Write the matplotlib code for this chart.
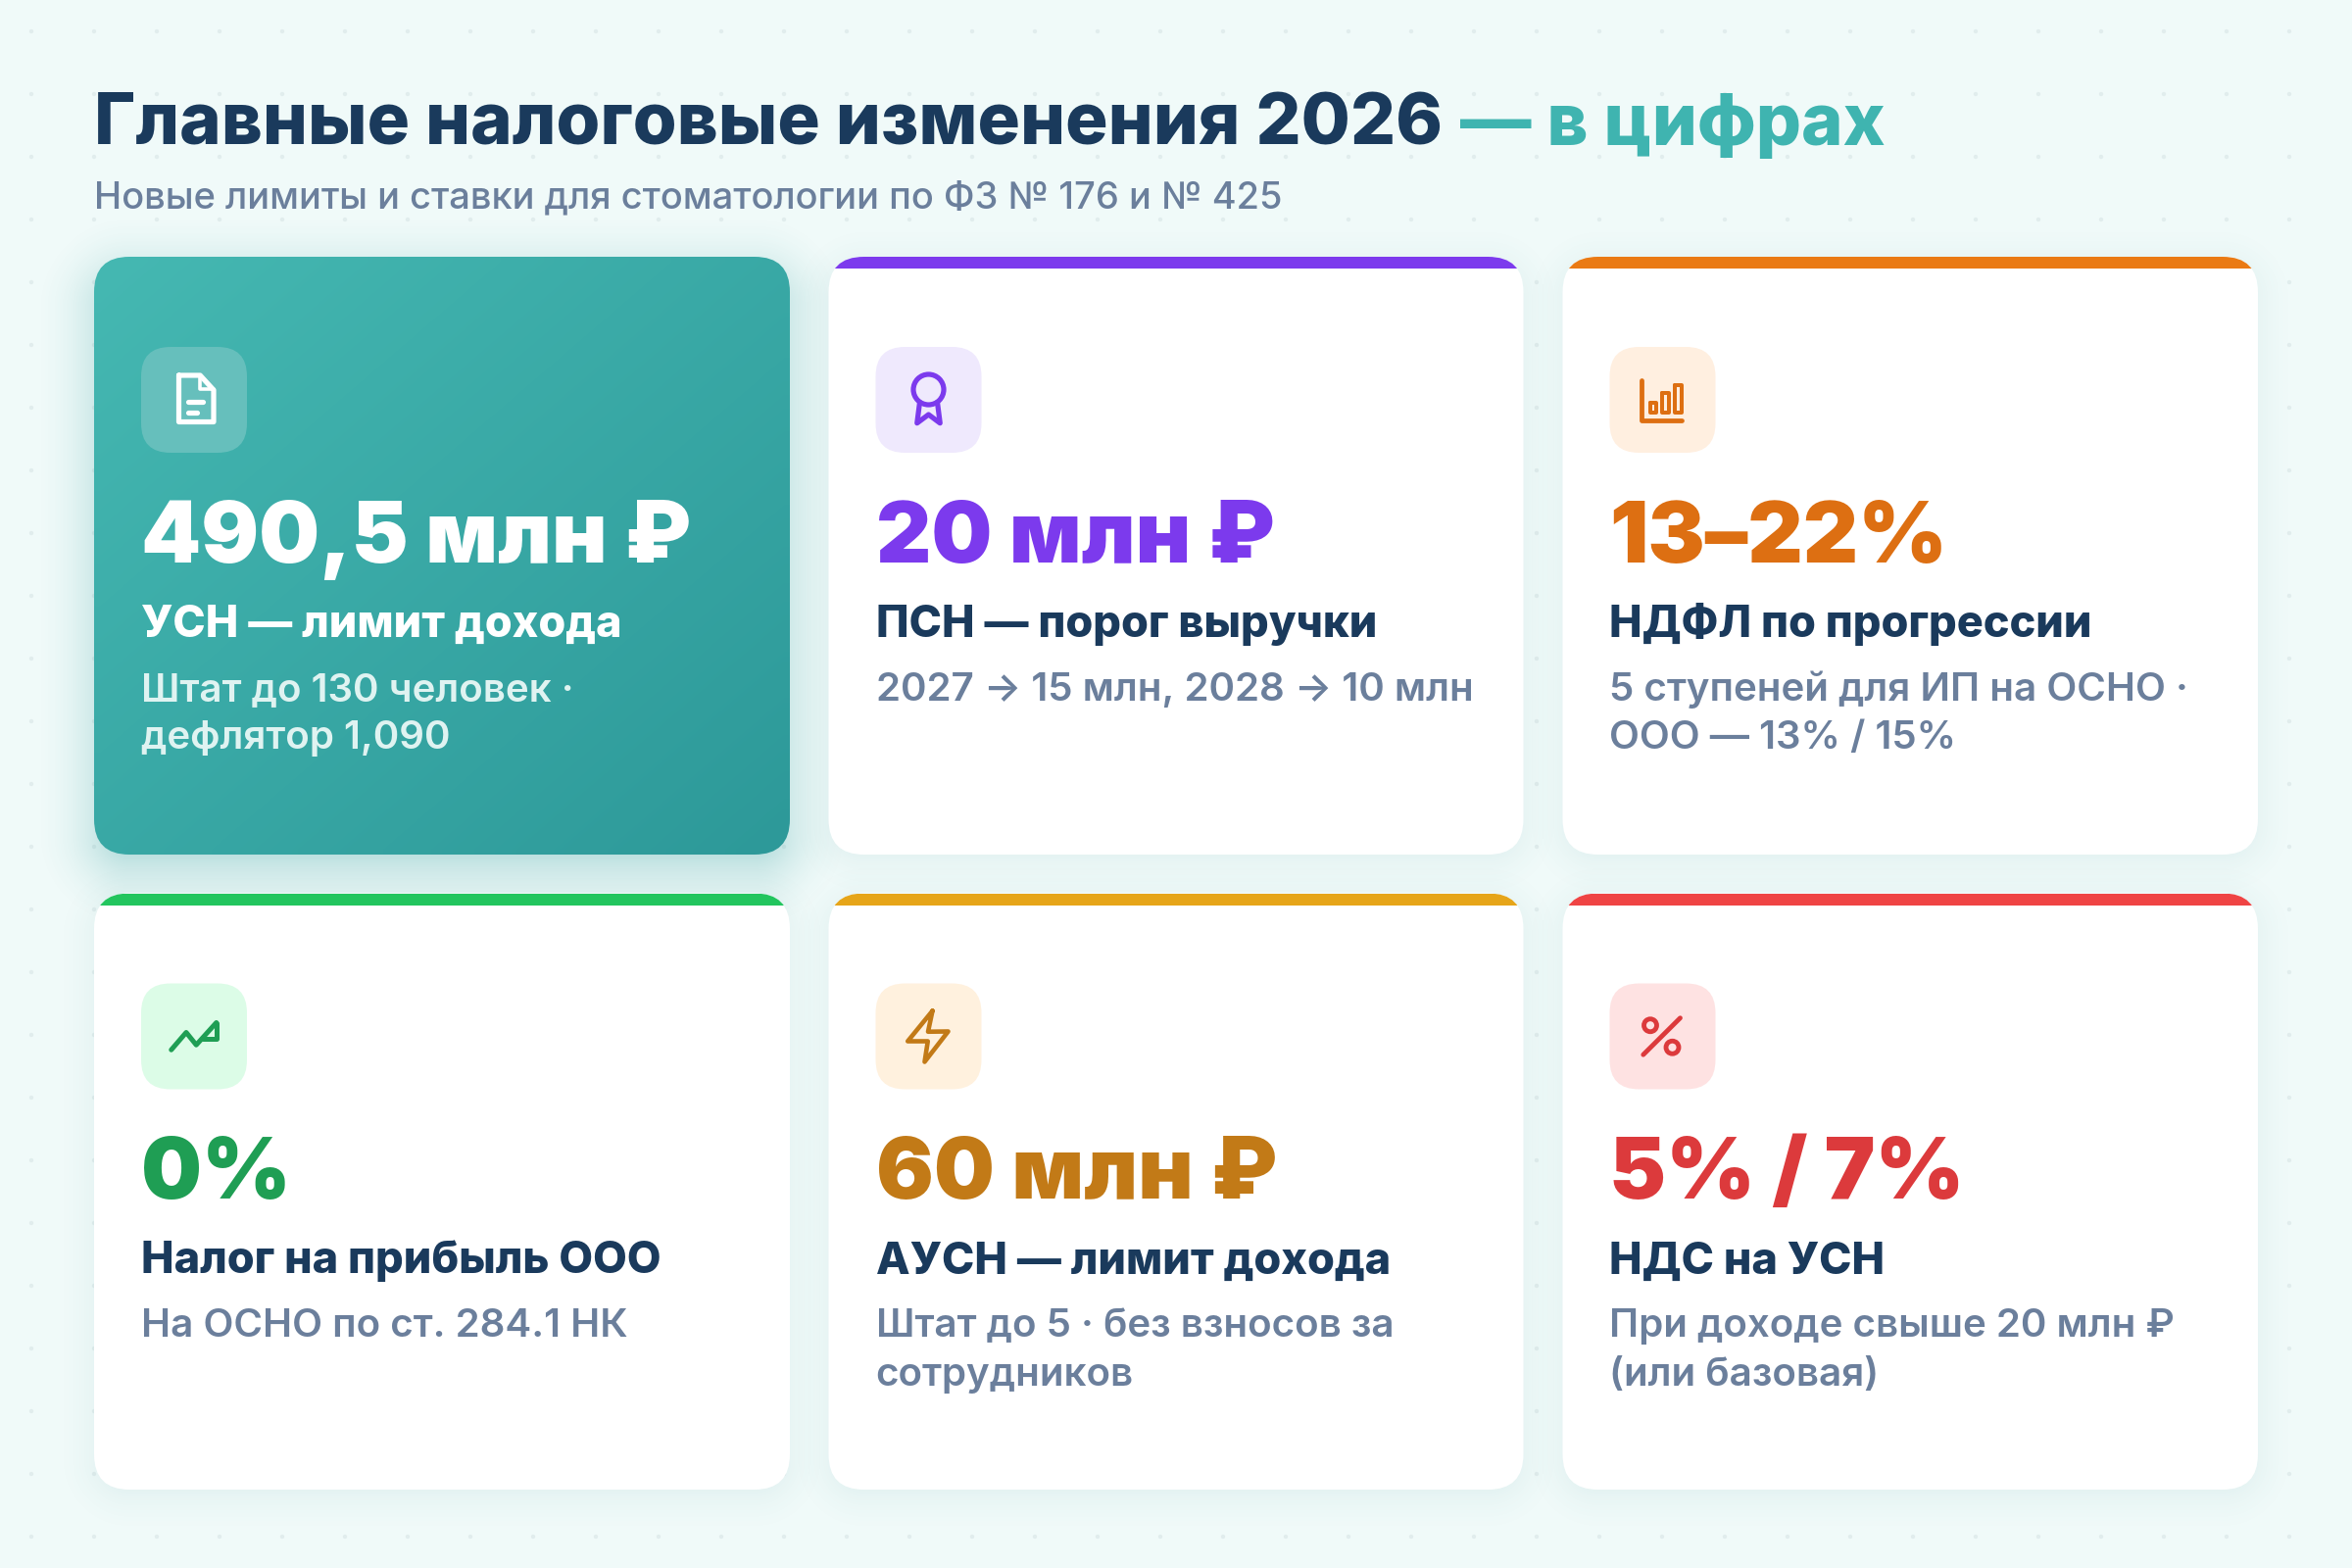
import matplotlib
matplotlib.use('Agg')
import matplotlib.pyplot as plt
import numpy as np
from matplotlib.lines import Line2D
from matplotlib.patches import Circle, FancyBboxPatch, Rectangle

FONT = ['Inter', 'DejaVu Sans']

title_main = 'Главные налоговые изменения 2026'
title_accent = '— в цифрах'
subtitle = 'Новые лимиты и ставки для стоматологии по ФЗ № 176 и № 425'

values = ['490,5 млн ₽', '20 млн ₽', '13–22%', '0%', '60 млн ₽', '5% / 7%']
headings = ['УСН — лимит дохода', 'ПСН — порог выручки', 'НДФЛ по прогрессии',
            'Налог на прибыль ООО', 'АУСН — лимит дохода', 'НДС на УСН']
notes = [['Штат до 130 человек ·', 'дефлятор 1,090'],
         ['2027 → 15 млн, 2028 → 10 млн'],
         ['5 ступеней для ИП на ОСНО ·', 'ООО — 13% / 15%'],
         ['На ОСНО по ст. 284.1 НК'],
         ['Штат до 5 · без взносов за', 'сотрудников'],
         ['При доходе свыше 20 млн ₽', '(или базовая)']]
icons = ['doc', 'award', 'chart', 'trend', 'zap', 'percent']

bar_colors = [None, '#7c3aed', '#ea7a14', '#22c55e', '#e6a519', '#ef4444']
value_colors = ['#ffffff', '#7c3aed', '#dd6f12', '#1f9e54', '#c27a17', '#dc3a3c']
icon_bgs = ['#66bfbc', '#efe9fd', '#ffefe0', '#dcfce7', '#fff1de', '#fee2e2']
icon_colors = ['#ffffff', '#7c3aed', '#dd6f12', '#1f9e54', '#c27a17', '#dc3a3c']

NAVY = '#1a3a5c'
TEAL = '#3fb4b0'
GREY = '#6b7f9c'

card_x = [96, 845.5, 1594.5]
card_y = [262, 911.5]
card_w = [710, 709, 709.5]
card_h = [610, 608.5]
RADIUS = 36


def lw(px):
    return px * 72 / 200


def shadow(ax, x, y, w, h, blur, dy, color, a):
    x0, x1 = int(x - blur * 1.5), int(x + w + blur * 1.5)
    y0, y1 = int(y + dy - blur * 1.5), int(y + h + dy + blur * 1.5)
    yy, xx = np.mgrid[y0:y1, x0:x1]
    qx = np.abs(xx + 0.5 - x - w / 2) - w / 2 + RADIUS
    qy = np.abs(yy + 0.5 - y - dy - h / 2) - h / 2 + RADIUS
    d = np.hypot(np.maximum(qx, 0), np.maximum(qy, 0)) + np.minimum(np.maximum(qx, qy), 0) - RADIUS
    img = np.zeros(xx.shape + (4,))
    img[..., :3] = matplotlib.colors.to_rgb(color)
    img[..., 3] = a * np.clip(1 - (d + blur * 0.4) / (blur * 1.4), 0, 1) ** 2
    ax.imshow(img, extent=(x0, x1, y1, y0), aspect='auto', zorder=2, interpolation='bilinear')


def draw_icon(ax, name, cx, cy, color):
    s = 2.5

    def pt(u, v):
        return cx + (u - 12) * s, cy + (v - 12) * s

    def line(points, width=5.2, close=False):
        pts = [pt(u, v) for u, v in points]
        if close:
            pts.append(pts[0])
        xs, ys = zip(*pts)
        ax.add_line(Line2D(xs, ys, color=color, lw=lw(width), solid_capstyle='round',
                           solid_joinstyle='round', zorder=6))

    def ring(u, v, r, width=5.2):
        ax.add_patch(Circle(pt(u, v), r * s, fill=False, ec=color, lw=lw(width), zorder=6))

    if name == 'doc':
        line([(5.8, 2), (14.5, 2), (20, 8), (20, 21), (5.8, 21)], close=True)
        line([(14.5, 2), (14.5, 7.5), (20, 7.5)], 3.6)
        line([(9.5, 12.8), (15.5, 12.8)])
        line([(9.5, 17), (13, 17)])
    elif name == 'award':
        ring(12, 7.8, 6.2)
        line([(8.4, 13), (7.3, 21.5), (12, 18), (16.7, 21.5), (15.6, 13)])
    elif name == 'chart':
        line([(3.4, 3.8), (3.4, 20.2), (19.8, 20.2)], 4.8)
        for u0, u1, top in [(6.8, 9.4, 13), (11.9, 14.5, 9), (17, 19.7, 6)]:
            line([(u0, top), (u1, top), (u1, 17), (u0, 17)], 4, close=True)
    elif name == 'trend':
        line([(2.7, 17.5), (8.8, 10.4), (12.9, 15.5), (21.1, 6.4)], 5)
        line([(21.1, 6.4), (21.1, 12.8), (15.5, 12.8)], 5)
    elif name == 'zap':
        line([(13.6, 1.6), (11.8, 10.1), (20, 10), (10.4, 22.4), (11.7, 14), (3.5, 14)], 4.6, close=True)
    elif name == 'percent':
        line([(19.2, 4.5), (4.1, 19.5)], 4.8)
        ring(7, 7.5, 2.6, 4.8)
        ring(16, 16.5, 2.6, 4.8)


fig = plt.figure(figsize=(12, 8), dpi=200)
ax = fig.add_axes([0, 0, 1, 1])
ax.set_xlim(0, 2400)
ax.set_ylim(1600, 0)

# page background with the faint dot grid
ax.add_patch(Rectangle((0, 0), 2400, 1600, fc='#f0faf9', ec='none', zorder=0))
for gx in range(32, 2400, 64):
    for gy in range(32, 1600, 64):
        ax.add_patch(Circle((gx, gy), 2.2, fc='#e1eded', ec='none', zorder=1))

# title
t1 = ax.text(96, 148, title_main, color=NAVY, fontsize=26.1, fontweight=800, family=FONT,
             va='baseline', zorder=7)
fig.canvas.draw()
right = t1.get_window_extent(fig.canvas.get_renderer()).x1
ax.text(right + 18, 148, title_accent, color=TEAL, fontsize=26.1, fontweight=800, family=FONT,
        va='baseline', zorder=7)
ax.text(96, 212, subtitle, color=GREY, fontsize=13.7, fontweight=500, family=FONT, va='baseline', zorder=7)

for i in range(6):
    col, row = i % 3, i // 3
    x, y = card_x[col], card_y[row]
    w, h = card_w[col], card_h[row]
    style = 'round,pad=0,rounding_size=%d' % RADIUS
    if i == 0:
        shadow(ax, x, y, w, h, 64, 16, '#2e9b9b', 0.34)
        card = FancyBboxPatch((x, y), w, h, boxstyle=style, fc='none', ec='none', zorder=3)
        ax.add_patch(card)
        # diagonal teal gradient clipped to the card
        yy, xx = np.mgrid[0:1:60j, 0:1:60j]
        grad = ax.imshow((xx + yy) / 2, extent=(x, x + w, y + h, y), aspect='auto', zorder=3,
                         cmap=matplotlib.colors.LinearSegmentedColormap.from_list('t', ['#45b8b2', '#2d9999']),
                         interpolation='bilinear')
        grad.set_clip_path(card)
    else:
        shadow(ax, x, y, w, h, 44, 6, '#2a7f86', 0.09)
        card = FancyBboxPatch((x, y), w, h, boxstyle=style, fc='white', ec='none', zorder=3)
        ax.add_patch(card)
        bar = Rectangle((x, y), w, 12, fc=bar_colors[i], ec='none', zorder=4)
        ax.add_patch(bar)
        bar.set_clip_path(card)

    bx, by = x + 48, y + 92
    ax.add_patch(FancyBboxPatch((bx, by), 108, 108, boxstyle='round,pad=0,rounding_size=30',
                                fc=icon_bgs[i], ec='none', zorder=5))
    draw_icon(ax, icons[i], bx + 54, by + 54, icon_colors[i])

    head_col = 'white' if i == 0 else NAVY
    note_col = '#dff3f1' if i == 0 else GREY
    ax.text(bx, y + 312, values[i], color=value_colors[i], fontsize=31.4, fontweight=900, family=FONT,
            va='baseline', zorder=7)
    ax.text(bx, y + 388, headings[i], color=head_col, fontsize=16.2, fontweight=800, family=FONT,
            va='baseline', zorder=7)
    for k, line_text in enumerate(notes[i]):
        ax.text(bx, y + 453 + k * 49.5, line_text, color=note_col, fontsize=14.5, fontweight=600, family=FONT,
                va='baseline', zorder=7)

ax.set_xlim(0, 2400)
ax.set_ylim(1600, 0)
ax.axis('off')
fig.savefig('out.png', dpi=200)
